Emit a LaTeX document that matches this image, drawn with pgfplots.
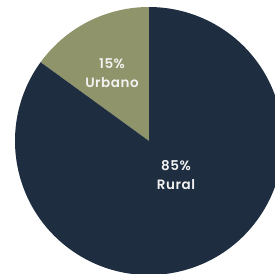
\documentclass[border=0pt]{standalone}
\usepackage{pgfplots}
\pgfplotsset{compat=1.18}
\usepackage{pgfplotstable}
\usepackage{fontspec}
\setmainfont{Poppins}[BoldFont={Poppins SemiBold}]
\definecolor{navy}{HTML}{1F2D40}
\definecolor{olive}{HTML}{8F946A}
\definecolor{lbl}{HTML}{F2F2F2}
\pgfplotstableread{
label value
Urbano 15
Rural 85
}\piedata
\begin{document}
\begin{tikzpicture}
\clip (0,0) rectangle (275pt,273pt);
\begin{axis}[
  at={(0,0)}, anchor=south west,
  scale only axis, width=275pt, height=273pt,
  xmin=0, xmax=275, ymin=0, ymax=273,
  hide axis, clip=false]
\pgfplotstablegetelem{0}{value}\of\piedata \let\vU\pgfplotsretval
\pgfplotstablegetelem{1}{value}\of\piedata \let\vR\pgfplotsretval
\pgfmathsetmacro{\aU}{90+3.6*\vU}
\pgfmathsetmacro{\aR}{\aU+3.6*\vR}
\fill[olive] (axis cs:149,132) -- ++(90:134pt) arc[start angle=90, end angle=\aU, radius=134pt] -- cycle;
\fill[navy] (axis cs:149,132) -- ++(\aU:134pt) arc[start angle=\aU, end angle=\aR, radius=134pt] -- cycle;
\node[text=lbl, font=\bfseries\addfontfeatures{LetterSpace=4}\fontsize{13.5}{19}\selectfont, align=center] at (axis cs:112,200) {15\%\\Urbano};
\node[text=lbl, font=\bfseries\addfontfeatures{LetterSpace=4}\fontsize{13.5}{19}\selectfont, align=center] at (axis cs:176,98) {85\%\\Rural};
\end{axis}
\end{tikzpicture}
\end{document}
